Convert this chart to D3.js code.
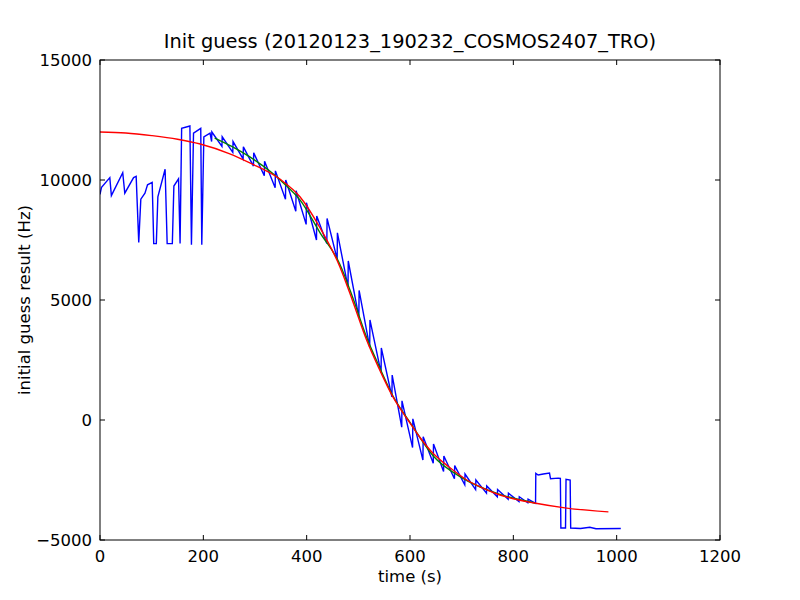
<!DOCTYPE html>
<html>
<head>
<meta charset="utf-8">
<script src="https://cdnjs.cloudflare.com/ajax/libs/d3/7.8.5/d3.min.js"></script>
<style>
  body { margin: 0; background: #fff; }
  text { font-family: "DejaVu Sans", sans-serif; }
</style>
</head>
<body>
<div id="chart"></div>
<script>
// measured guess (blue): time (s), value (Hz)
var blue_t = [0, 3, 19, 22, 44, 48, 65, 70, 75, 79, 87, 92, 101, 104, 109, 112, 126, 130, 140, 143, 152, 155, 158, 174, 177, 181, 195, 197, 201, 213,
  216, 216.5, 236, 236.5, 257, 257.5, 277, 277.5, 297, 297.5, 318, 318.5, 339, 339.5, 359, 359.5, 379, 379.5, 399, 399.5,
  419, 419.5, 439, 439.5, 459, 459.5, 480, 480.5, 501, 501.5, 522, 522.5, 544, 544.5, 565, 565.5, 584, 584.5, 605, 605.5,
  625, 625.5, 645, 645.5, 665, 665.5, 686, 686.5, 706, 706.5, 727, 727.5, 748, 748.5, 769, 769.5, 790, 790.5, 811, 811.5,
  828, 828.5, 843, 843.5, 848, 858, 870, 872, 887, 891, 892, 901, 902, 910, 911, 930, 948, 960, 1008];
var blue_v = [9400, 9700, 10100, 9350, 10300, 9450, 10100, 10150, 7400, 9200, 9450, 9800, 9900, 7350, 7350, 9300, 10450, 7350, 7350, 9750, 10050, 7350, 12150, 12250, 7300, 11950, 12150, 7300, 11800, 11950,
  11600, 12000, 11400, 11800, 11150, 11600, 10880, 11380, 10580, 11130, 10180, 10780, 9680, 10380, 9200, 10000, 8700, 9550, 8150, 9050,
  7500, 8500, 7350, 8400, 6700, 7800, 5540, 6625, 4290, 5400, 3040, 4170, 1960, 3000, 960, 1870, -300, 800, -1150, 50,
  -1670, -700, -1800, -1000, -2150, -1500, -2450, -1900, -2700, -2250, -2900, -2500, -3050, -2750, -3200, -2900, -3300, -3050, -3400, -3200,
  -3450, -3300, -3470, -2220, -2290, -2250, -2210, -2450, -2420, -2430, -4500, -4500, -2470, -2500, -4500, -4520, -4470, -4530, -4520];

// smoothed guess (green)
var green_t = [222, 255, 290, 355, 387, 426, 464, 490, 516, 540, 567, 600, 645, 700, 774, 842];
var green_v = [11750, 11400, 10960, 9880, 9170, 7800, 6500, 5050, 3450, 2250, 1000, -100, -1500, -2400, -3100, -3460];

// model (red)
var red_t = [0, 50, 100, 150, 194, 250, 290, 348, 387, 426, 464, 490, 516, 540, 567, 596, 620, 645, 675, 710, 740, 774, 800, 838, 903, 984];
var red_v = [12000, 11960, 11850, 11700, 11500, 11100, 10710, 10040, 9300, 8000, 6400, 4900, 3330, 2150, 960, 0, -750, -1400, -1950, -2500, -2830, -3125, -3280, -3450, -3670, -3830];

var x_ticks = [0, 200, 400, 600, 800, 1000, 1200];
var y_ticks = [-5000, 0, 5000, 10000, 15000];

var margin = { top: 60, right: 80, bottom: 60, left: 100 },
    width = 800 - margin.left - margin.right,
    height = 600 - margin.top - margin.bottom;

var svg = d3.select("#chart")
    .append("svg")
    .attr("width", 800)
    .attr("height", 600)
    .append("g")
    .attr("transform", "translate(" + margin.left + "," + margin.top + ")");

var x = d3.scaleLinear().domain([0, 1200]).range([0, width]);
var y = d3.scaleLinear().domain([-5000, 15000]).range([height, 0]);

function pts(ts, vs) {
    return ts.map(function (t, i) { return [t, vs[i]]; });
}

svg.append("clipPath").attr("id", "clip")
    .append("rect").attr("width", width).attr("height", height);

var plot = svg.append("g").attr("clip-path", "url(#clip)");

var line = d3.line().x(d => x(d[0])).y(d => y(d[1]));
var smooth = d3.line().x(d => x(d[0])).y(d => y(d[1])).curve(d3.curveMonotoneX);

plot.append("path")
    .datum(pts(blue_t, blue_v))
    .attr("d", line)
    .attr("fill", "none")
    .attr("stroke", "#0000ff")
    .attr("stroke-width", 1.4);

plot.append("path")
    .datum(pts(green_t, green_v))
    .attr("d", smooth)
    .attr("fill", "none")
    .attr("stroke", "#008000")
    .attr("stroke-width", 1.4);

plot.append("path")
    .datum(pts(red_t, red_v))
    .attr("d", smooth)
    .attr("fill", "none")
    .attr("stroke", "#ff0000")
    .attr("stroke-width", 1.4);

// ticks inside, on all four sides
var tl = 5;
svg.selectAll(".xt")
    .data(x_ticks)
    .join("g")
    .each(function (d) {
        var g = d3.select(this);
        g.append("line").attr("x1", x(d)).attr("x2", x(d)).attr("y1", height).attr("y2", height - tl).attr("stroke", "black");
        g.append("line").attr("x1", x(d)).attr("x2", x(d)).attr("y1", 0).attr("y2", tl).attr("stroke", "black");
        g.append("text").attr("x", x(d)).attr("y", height + 22).attr("text-anchor", "middle")
            .style("font-size", "16.5px").text(d);
    });

svg.selectAll(".yt")
    .data(y_ticks)
    .join("g")
    .each(function (d) {
        var g = d3.select(this);
        g.append("line").attr("x1", 0).attr("x2", tl).attr("y1", y(d)).attr("y2", y(d)).attr("stroke", "black");
        g.append("line").attr("x1", width).attr("x2", width - tl).attr("y1", y(d)).attr("y2", y(d)).attr("stroke", "black");
        g.append("text").attr("x", -8).attr("y", y(d)).attr("dy", "0.35em").attr("text-anchor", "end")
            .style("font-size", "16.5px").text(d == -5000 ? "\u22125000" : d);
    });

svg.append("rect")
    .attr("width", width)
    .attr("height", height)
    .attr("fill", "none")
    .attr("stroke", "black")
    .attr("stroke-width", 1);

svg.append("text")
    .attr("x", width / 2)
    .attr("y", -12)
    .attr("text-anchor", "middle")
    .style("font-size", "19.4px")
    .text("Init guess (20120123_190232_COSMOS2407_TRO)");

svg.append("text")
    .attr("x", width / 2)
    .attr("y", height + 42)
    .attr("text-anchor", "middle")
    .style("font-size", "16.5px")
    .text("time (s)");

svg.append("text")
    .attr("transform", "translate(-70," + (height / 2) + ") rotate(-90)")
    .attr("text-anchor", "middle")
    .style("font-size", "16.5px")
    .text("initial guess result (Hz)");
</script>
</body>
</html>
